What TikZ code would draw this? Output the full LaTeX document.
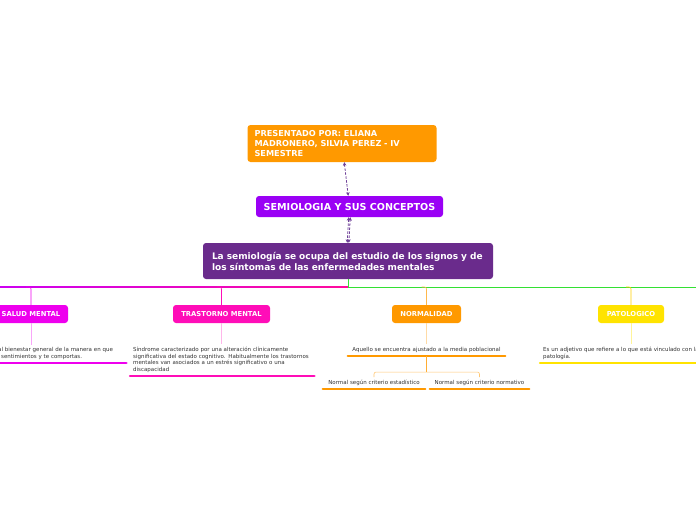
\documentclass[tikz,border=0pt]{standalone}
\usepackage{fontspec}
\setmainfont{DejaVu Sans}
\usetikzlibrary{arrows.meta}

\definecolor{presorange}{HTML}{FF9900}
\definecolor{sempurple}{HTML}{9A00F5}
\definecolor{cenpurple}{HTML}{6A2B8C}
\definecolor{linkpurple}{HTML}{6E3F98}
\definecolor{saludmag}{HTML}{EE00EE}
\definecolor{trastpink}{HTML}{FF0DB8}
\definecolor{patoyellow}{HTML}{FFE300}
\definecolor{bargreen}{HTML}{33E033}
\definecolor{descgray}{HTML}{333333}

\tikzset{
  box/.style={rounded corners=3pt,text=white,inner sep=0pt},
  topic/.style={box,minimum height=18,font=\bfseries\fontsize{6.8}{8}\selectfont},
  desc/.style={font=\fontsize{5.5}{6.7}\selectfont,text=descgray,align=left,
    inner xsep=3,inner ysep=3},
  uline/.style={line width=2.5pt,line cap=round},
  dashlink/.style={draw=linkpurple,line width=0.8pt,dash pattern=on 2.5pt off 1.5pt,
    {Stealth[length=3.5pt,width=3.5pt]}-{Stealth[length=3.5pt,width=3.5pt]}},
  drop/.style={line width=0.6pt,rounded corners=2pt}
}

\begin{document}
\begin{tikzpicture}[x=1pt,y=-1pt]
  \useasboundingbox (0,0) rectangle (696,520);
  \fill[white] (0,0) rectangle (696,520);

  % top of the map
  \node[box,fill=presorange,minimum width=189,minimum height=37,text width=175,
    align=left,font=\bfseries\fontsize{8.2}{9.8}\selectfont] (pres) at (342,143.5)
    {PRESENTADO POR: ELIANA\\MADRONERO, SILVIA PEREZ - IV\\SEMESTRE};
  \node[box,fill=sempurple,minimum width=187,minimum height=21,
    font=\bfseries\fontsize{9.6}{10}\selectfont] (sem) at (349.5,206.5)
    {SEMIOLOGIA Y SUS CONCEPTOS};
  \node[box,fill=cenpurple,minimum width=290,minimum height=36,text width=272,
    align=left,inner xsep=9,font=\bfseries\fontsize{9}{11}\selectfont] (cen) at (348,261)
    {La semiología se ocupa del estudio de los signos y de\\los síntomas de las enfermedades mentales};

  \draw[dashlink] (pres) -- (sem);
  \draw[dashlink] ([xshift=-0.8]sem.south) -- ([xshift=-0.8]cen.north);
  \draw[dashlink] ([xshift=0.8]sem.south) -- ([xshift=0.8]cen.north);

  % main bar
  \coordinate (barL) at (0,287);
  \coordinate (barM) at (348,287);
  \coordinate (barR) at (696,287);
  \shade[left color=saludmag!60!sempurple,middle color=saludmag!90!red,right color=trastpink!85!red]
    (0,286.5) rectangle (348,287.5);
  \draw[bargreen,line width=1pt] (barM) -- (barR);
  \draw[bargreen,line width=1pt] (cen.south) -- (barM);

  % topics
  \node[topic,fill=saludmag,minimum width=74] (salud) at (31,314) {SALUD MENTAL};
  \node[topic,fill=trastpink,minimum width=97] (trast) at (221.5,314) {TRASTORNO MENTAL};
  \node[topic,fill=presorange,minimum width=69] (norm) at (426.5,314) {NORMALIDAD};
  \node[topic,fill=patoyellow,minimum width=66] (pato) at (631,314) {PATOLOGICO};

  \draw[drop,saludmag] (salud.north) -- (salud.north |- barM) -- ++(-5,0);
  \draw[drop,trastpink] (trast.north) -- (trast.north |- barM) -- ++(-5,0);
  \draw[drop,presorange!70] (norm.north) -- (norm.north |- barM) -- ++(-5,0);
  \draw[drop,patoyellow!80!orange] (pato.north) -- (pato.north |- barM) -- ++(-5,0);

  % descriptions
  \node[desc,text width=125,anchor=south west] (tsalud) at (-5,363)
    {al bienestar general de la manera en que\\\hspace*{3pt}sentimientos y te comportas.};
  \node[desc,text width=178,anchor=south west] (ttrast) at (130,376)
    {Síndrome caracterizado por una alteración clínicamente\\significativa del estado cognitivo. Habitualmente los trastornos\\mentales van asociados a un estrés significativo o una\\discapacidad};
  \node[desc,text width=151,align=center,anchor=south] (tnorm) at (426.5,356)
    {Aquello se encuentra ajustado a la media poblacional};
  \node[desc,text width=96,align=center,anchor=south] (test) at (374,389)
    {Normal según criterio estadístico};
  \node[desc,text width=93,align=center,anchor=south] (tnormv) at (479.5,389)
    {Normal según criterio normativo};
  \node[desc,text width=200,anchor=south west] (tpato) at (540,363)
    {Es un adjetivo que refiere a lo que está vinculado con la\\patología.};

  \draw[uline,saludmag] (tsalud.south west) -- (tsalud.south east);
  \draw[uline,trastpink] (ttrast.south west) -- (ttrast.south east);
  \draw[uline,presorange] (tnorm.south west) -- (tnorm.south east);
  \draw[uline,presorange] (test.south west) -- (test.south east);
  \draw[uline,presorange] (tnormv.south west) -- (tnormv.south east);
  \draw[uline,patoyellow] (tpato.south west) -- (tpato.south east);

  \draw[saludmag!35,line width=0.6pt] (salud.south) -- (salud.south |- tsalud.north);
  \draw[trastpink!30,line width=0.6pt] (trast.south) -- (trast.south |- ttrast.north);
  \draw[presorange!35,line width=0.6pt] (norm.south) -- (tnorm.north);
  \draw[patoyellow!40,line width=0.6pt] (pato.south) -- (pato.south |- tpato.north);

  \draw[presorange!80,line width=0.6pt] (tnorm.south) -- ++(0,16);
  \draw[drop,presorange!55] (test.north) -- ++(0,-5) -| (tnormv.north);
\end{tikzpicture}
\end{document}
